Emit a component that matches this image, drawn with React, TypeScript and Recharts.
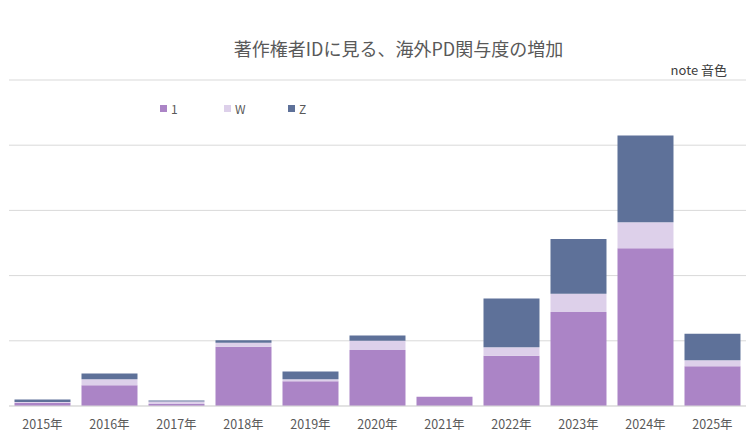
import { BarChart, Bar, XAxis, YAxis, CartesianGrid } from 'recharts'

const years = ['2015年', '2016年', '2017年', '2018年', '2019年', '2020年', '2021年', '2022年', '2023年', '2024年', '2025年']
const series1 = [0.5, 3.2, 0.3, 9.1, 3.8, 8.6, 1.4, 7.7, 14.4, 24.2, 6.1]
const seriesW = [0.1, 0.9, 0.4, 0.6, 0.3, 1.4, 0, 1.3, 2.8, 4.0, 0.9]
const seriesZ = [0.4, 0.9, 0.15, 0.4, 1.2, 0.8, 0, 7.5, 8.4, 13.3, 4.1]
const yTicks = [0, 10, 20, 30, 40, 50]

const colors = { one: '#ab84c6', w: '#ddd0ea', z: '#5e7199' }
const font = '"Noto Sans CJK JP", "Noto Sans", sans-serif'

const data = years.map((year, i) => ({
  year,
  one: series1[i],
  w: seriesW[i],
  z: seriesZ[i],
}))

const legendItems = [
  { label: '1', color: colors.one },
  { label: 'W', color: colors.w },
  { label: 'Z', color: colors.z },
]

export default function App() {
  return (
    <div style={{ position: 'absolute', left: 0, top: 0, width: 753, height: 437, background: '#fff', fontFamily: font }}>
      <div style={{ position: 'absolute', top: 35, width: 753, textAlign: 'center', left: 22, fontSize: 18, color: '#595959' }}>
        著作権者IDに見る、海外PD関与度の増加
      </div>
      <div style={{ position: 'absolute', top: 60, right: 26, fontSize: 13, color: '#404040' }}>
        note 音色
      </div>
      {/* legend drawn by hand to match spacing of the original */}
      <div style={{ position: 'absolute', top: 100, left: 160, display: 'flex', fontSize: 12, color: '#595959', zIndex: 1 }}>
        {legendItems.map(item => (
          <div key={item.label} style={{ display: 'flex', alignItems: 'center', width: 64 }}>
            <span style={{ width: 7, height: 7, background: item.color, marginRight: 4, display: 'inline-block' }} />
            <span>{item.label}</span>
          </div>
        ))}
      </div>
      <BarChart
        width={753}
        height={437}
        data={data}
        margin={{ top: 80, right: 7, left: 9, bottom: 6 }}
        barCategoryGap="8.2%"
      >
        <CartesianGrid vertical={false} stroke="#d9d9d9" />
        <XAxis
          dataKey="year"
          axisLine={{ stroke: '#d9d9d9' }}
          tickLine={false}
          height={25}
          tick={{ fill: '#595959', fontSize: 12.5, fontFamily: font }}
          tickMargin={8}
        />
        <YAxis hide domain={[0, 50]} ticks={yTicks} />
        <Bar dataKey="one" stackId="a" fill={colors.one} isAnimationActive={false} />
        <Bar dataKey="w" stackId="a" fill={colors.w} isAnimationActive={false} />
        <Bar dataKey="z" stackId="a" fill={colors.z} isAnimationActive={false} />
      </BarChart>
    </div>
  )
}
